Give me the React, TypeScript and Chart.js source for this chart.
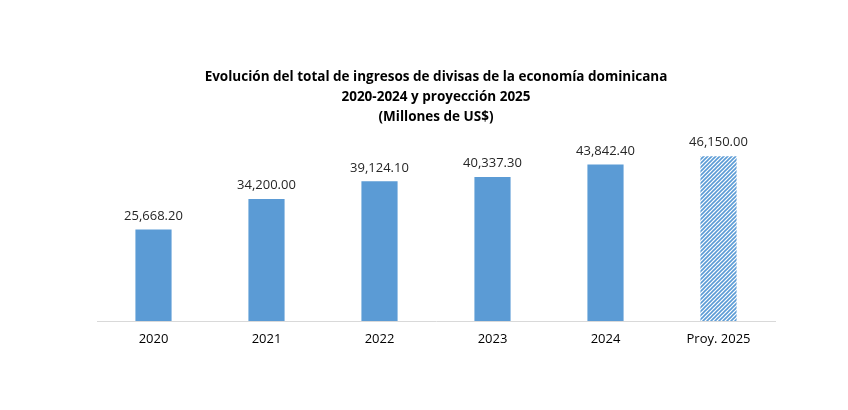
import React, { useEffect, useRef } from "react";
import { Chart, registerables } from "chart.js";

Chart.register(...registerables);

const categories = ["2020", "2021", "2022", "2023", "2024", "Proy. 2025"];
const values = [25668.2, 34200.0, 39124.1, 40337.3, 43842.4, 46150.0];
const projected = [false, false, false, false, false, true];
const titleLines = [
  "Evolución del total de ingresos de divisas de la economía dominicana",
  "2020-2024 y proyección 2025",
  "(Millones de US$)",
];

const BLUE = "#5B9BD5";

function makeHatch(): CanvasPattern | string {
  const c = document.createElement("canvas");
  c.width = 4;
  c.height = 4;
  const g = c.getContext("2d");
  if (!g) return BLUE;
  g.fillStyle = "#ffffff";
  g.fillRect(0, 0, 4, 4);
  g.strokeStyle = BLUE;
  g.lineWidth = 1.6;
  g.beginPath();
  g.moveTo(0, 4);
  g.lineTo(4, 0);
  g.moveTo(-1, 1);
  g.lineTo(1, -1);
  g.moveTo(3, 5);
  g.lineTo(5, 3);
  g.stroke();
  const p = g.createPattern(c, "repeat");
  return p || BLUE;
}

const fmt = (v: number) =>
  v.toLocaleString("en-US", { minimumFractionDigits: 2, maximumFractionDigits: 2 });

const valueLabels = {
  id: "valueLabels",
  afterDatasetsDraw(chart: any) {
    const ctx = chart.ctx;
    const meta = chart.getDatasetMeta(0);
    ctx.save();
    ctx.font = "13px 'Open Sans'";
    ctx.fillStyle = "#262626";
    ctx.textAlign = "center";
    ctx.textBaseline = "bottom";
    meta.data.forEach((bar: any, i: number) => {
      ctx.fillText(fmt(values[i]), bar.x, bar.y - 7);
    });
    ctx.restore();
  },
};

export default function App() {
  const ref = useRef<HTMLCanvasElement>(null);
  useEffect(() => {
    document.body.style.margin = "0";
    const hatch = makeHatch();
    const chart = new Chart(ref.current!, {
      type: "bar",
      data: {
        labels: categories,
        datasets: [
          {
            data: values,
            backgroundColor: projected.map((p) => (p ? hatch : BLUE)) as any,
            barPercentage: 0.64,
            categoryPercentage: 0.5,
          },
        ],
      },
      options: {
        animation: false,
        responsive: false,
        layout: { padding: { left: 97, right: 73, top: 67, bottom: 0 } },
        plugins: {
          legend: { display: false },
          tooltip: { enabled: false },
          title: {
            display: true,
            text: titleLines,
            color: "#000000",
            font: { family: "'Open Sans'", size: 13.5, weight: "bold", lineHeight: 1.48 },
            padding: { top: 0, bottom: 0 },
          },
        },
        scales: {
          x: {
            grid: { display: false },
            border: { color: "#D9D9D9", width: 1 },
            ticks: { color: "#000000", font: { family: "'Open Sans'", size: 13 }, padding: 2 },
            afterFit: (scale: any) => {
              scale.height = 89;
            },
          },
          y: {
            display: false,
            min: 0,
            max: 54370,
          },
        },
      },
      plugins: [valueLabels],
    });
    return () => chart.destroy();
  }, []);
  return (
    <div style={{ width: 848, height: 410, background: "#fff" }}>
      <canvas ref={ref} width={848} height={410} />
    </div>
  );
}
